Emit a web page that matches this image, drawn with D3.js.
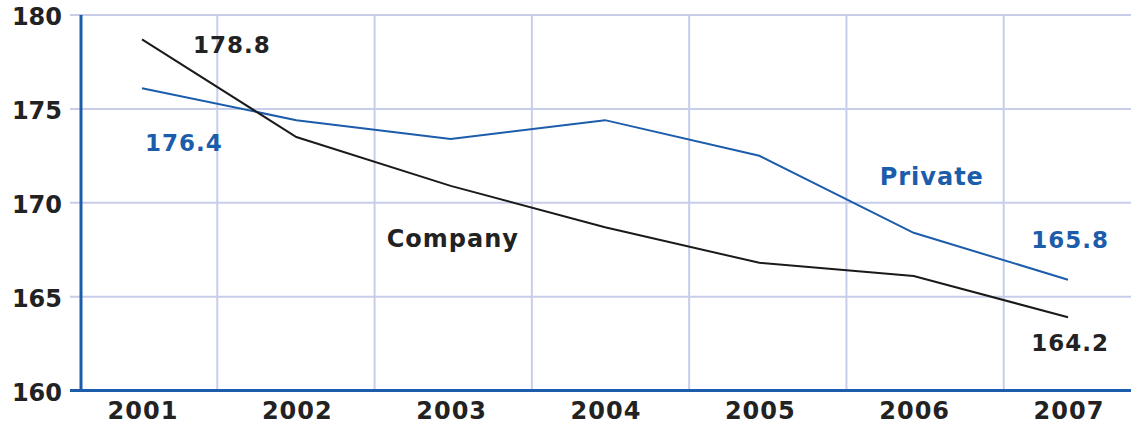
<!DOCTYPE html>
<html>
<head>
<meta charset="utf-8">
<script src="https://cdn.jsdelivr.net/npm/d3@7"></script>
<style>
    body { margin: 0; background: #fff; }
    text { font-family: 'DejaVu Sans', Verdana, sans-serif; font-weight: bold; }
</style>
</head>
<body>
<script>
var years = ['2001', '2002', '2003', '2004', '2005', '2006', '2007'],
    company = [178.7, 173.5, 170.9, 168.7, 166.8, 166.1, 163.9],
    priv = [176.1, 174.4, 173.4, 174.4, 172.5, 168.4, 165.9],
    yTicks = [160, 165, 170, 175, 180];

var width = 1131,
    height = 425,
    svg = d3.select('body').append('svg')
        .attr('width', width)
        .attr('height', height),
    xScale = d3.scalePoint().domain(years).range([142, 1068]),
    gridScale = d3.scaleBand().domain(years).range([60, 1161]),
    yScale = d3.scaleLinear().domain([160, 180]).range([390.5, 15]),
    blue = '#1b5cab',
    grid = '#c8cdea',
    line = d3.line()
        .x(function(d, i) { return xScale(years[i]); })
        .y(function(d) { return yScale(d); });

// horizontal grid
svg.append('g')
    .selectAll('line')
    .data(yTicks.slice(1))
    .enter()
    .append('line')
    .attr('x1', 70).attr('x2', width)
    .attr('y1', function(d) { return yScale(d); })
    .attr('y2', function(d) { return yScale(d); })
    .style('stroke', grid)
    .style('stroke-width', 2);

// vertical grid
svg.append('g')
    .selectAll('line')
    .data(years.slice(1))
    .enter()
    .append('line')
    .attr('x1', function(d) { return gridScale(d); })
    .attr('x2', function(d) { return gridScale(d); })
    .attr('y1', yScale(180)).attr('y2', yScale(160))
    .style('stroke', grid)
    .style('stroke-width', 2);

// axes
svg.append('line')
    .attr('x1', 70).attr('x2', width)
    .attr('y1', yScale(160)).attr('y2', yScale(160))
    .style('stroke', blue).style('stroke-width', 3);
svg.append('line')
    .attr('x1', 81).attr('x2', 81)
    .attr('y1', yScale(180)).attr('y2', yScale(160) + 1.5)
    .style('stroke', blue).style('stroke-width', 3);

svg.append('g')
    .selectAll('text')
    .data(yTicks)
    .enter()
    .append('text')
    .attr('x', 62)
    .attr('y', function(d) { return yScale(d) + 10; })
    .style('text-anchor', 'end')
    .style('font-size', '24px')
    .style('fill', '#222')
    .text(function(d) { return d; });

svg.append('g')
    .selectAll('text')
    .data(years)
    .enter()
    .append('text')
    .attr('x', function(d) { return xScale(d) + 1; })
    .attr('y', 419)
    .style('text-anchor', 'middle')
    .style('font-size', '24px')
    .style('letter-spacing', '1px')
    .style('fill', '#222')
    .text(function(d) { return d; });

// series
svg.append('path')
    .datum(priv)
    .attr('d', line)
    .style('fill', 'none')
    .style('stroke', blue)
    .style('stroke-width', 2);
svg.append('path')
    .datum(company)
    .attr('d', line)
    .style('fill', 'none')
    .style('stroke', '#1a1a1a')
    .style('stroke-width', 2);

// annotations
var notes = svg.append('g')
    .style('font-size', '23px')
    .style('letter-spacing', '1px');

notes.append('text')
    .attr('x', xScale('2001') + 51)
    .attr('y', yScale(company[0]) + 14)
    .style('fill', '#222')
    .text('178.8');
notes.append('text')
    .attr('x', xScale('2001') + 3)
    .attr('y', yScale(priv[0]) + 63)
    .style('fill', blue)
    .text('176.4');
notes.append('text')
    .attr('x', xScale('2003') - 64)
    .attr('y', yScale(170) + 44)
    .style('fill', '#222')
    .style('font-size', '24px')
    .text('Company');
notes.append('text')
    .attr('x', xScale('2006') - 34)
    .attr('y', yScale(170) - 18)
    .style('fill', blue)
    .style('font-size', '24px')
    .text('Private');
notes.append('text')
    .attr('x', xScale('2007') + 41)
    .attr('y', yScale(priv[6]) - 32)
    .style('text-anchor', 'end')
    .style('fill', blue)
    .text('165.8');
notes.append('text')
    .attr('x', xScale('2007') + 41)
    .attr('y', yScale(company[6]) + 34)
    .style('text-anchor', 'end')
    .style('fill', '#222')
    .text('164.2');
</script>
</body>
</html>
